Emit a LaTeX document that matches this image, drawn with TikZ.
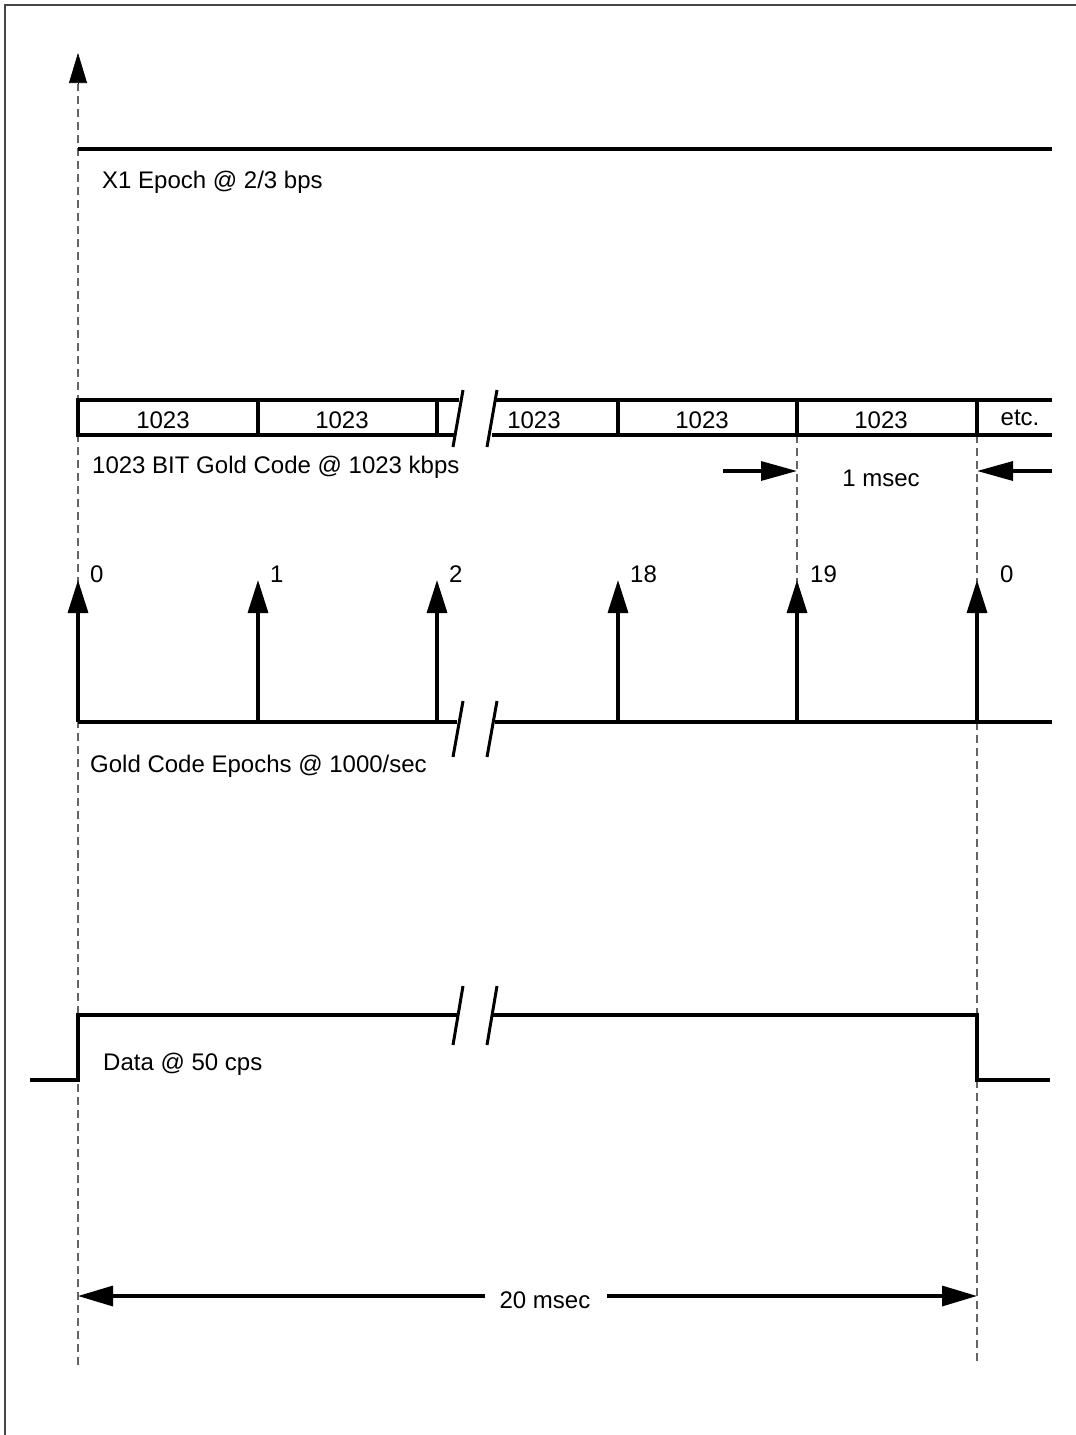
\documentclass[tikz,border=0pt]{standalone}
\usepackage{fontspec}
\setmainfont{Liberation Sans}
\usetikzlibrary{arrows.meta}
\begin{document}
\begin{tikzpicture}[x=1pt,y=-1pt,
  sig/.style={line width=3.3pt, line cap=butt},
  guide/.style={line width=1.1pt, draw={rgb,255:red,100;green,100;blue,100}, dash pattern=on 8pt off 5pt},
  lbl/.style={inner sep=0pt, anchor=base west, font=\fontsize{24}{28}\selectfont},
  clbl/.style={inner sep=0pt, anchor=base, font=\fontsize{24}{28}\selectfont},
  eptip/.style={-{Triangle[length=33pt,width=20pt]}},
  dimtip/.style={-{Triangle[length=36pt,width=19pt]}}
]
\useasboundingbox (0,0) rectangle (1076,1435);
\fill[white] (0,0) rectangle (1076,1435);
% frame (left and top edges)
\draw[line width=1.6pt, draw={rgb,255:red,70;green,70;blue,70}] (5,1440) -- (5,5) -- (1080,5);

% coordinates
\coordinate (gl) at (78,1365);
\coordinate (gt) at (78,84);
\coordinate (atip) at (78,53);

% guide lines
\draw[guide] (gl) -- (gt);
\draw[guide] (797,435) -- (797,582);
\draw[guide] (977,435) -- (977,582);
\draw[guide] (977,722) -- (977,1015);
\draw[guide] (977,1080) -- (977,1365);
% top arrow head
\draw[line width=0.6pt, -{Triangle[length=30pt,width=18pt]}] (gt) -- (atip);

% X1 epoch
\coordinate (x1a) at (78,149);
\coordinate (x1b) at (1052,149);
\draw[sig] (x1a) -- (x1b);
\node[lbl] (x1t) at (102,188) {X1 Epoch @ 2/3 bps};

% Gold code strip
\coordinate (s0t) at (78,400); \coordinate (s0b) at (78,435);
\draw[sig] (459,400) -- (s0t) -- (s0b) -- (454,435);
\draw[sig] (495,400) -- (1052,400);
\draw[sig] (492,435) -- (1052,435);
\foreach \xx in {258,437,618,797,977} \draw[sig] (\xx,400) -- (\xx,435);
\draw[line width=3pt] (463,390) -- (453,447);
\draw[line width=3pt] (497,390) -- (487,447);
\node[clbl] (c1) at (163,428) {1023};
\node[clbl] (c2) at (342,428) {1023};
\node[clbl] (c3) at (534,428) {1023};
\node[clbl] (c4) at (702,428) {1023};
\node[clbl] (c5) at (881,428) {1023};
\node[clbl] (c6) at (1020,425) {etc.};
\node[lbl] (gct) at (92,473) {1023 BIT Gold Code @ 1023 kbps};

% 1 msec
\coordinate (m1a) at (723,471); \coordinate (m1b) at (797,471);
\coordinate (m2a) at (1052,471); \coordinate (m2b) at (977,471);
\draw[sig, dimtip] (m1a) -- (m1b);
\draw[sig, dimtip] (m2a) -- (m2b);
\node[clbl] (ms1) at (881,486) {1 msec};

% Gold code epochs
\draw[sig] (78,722) -- (457,722);
\draw[sig] (495,722) -- (1052,722);
\draw[line width=3pt] (463,701) -- (453,757);
\draw[line width=3pt] (497,701) -- (487,757);
\foreach \xx/\lab/\lx in {78/0/90, 258/1/270, 437/2/449, 618/18/630, 797/19/810, 977/0/1000}{
  \draw[sig, eptip] (\xx,722) -- (\xx,580);
  \node[lbl] at (\lx,582) {\lab};
}
\node[lbl] (gce) at (90,772) {Gold Code Epochs @ 1000/sec};

% Data
\draw[sig] (30,1080) -- (78,1080) -- (78,1015) -- (458,1015);
\draw[sig] (493,1015) -- (977,1015) -- (977,1080) -- (1050,1080);
\draw[line width=3pt] (463,986) -- (453,1045);
\draw[line width=3pt] (497,986) -- (487,1045);
\node[lbl] (dt) at (103,1070) {Data @ 50 cps};

% 20 msec
\node[clbl] (t20) at (545,1308) {20 msec};
\coordinate (d1) at (485,1296); \coordinate (d1t) at (78,1296);
\coordinate (d2) at (607,1296); \coordinate (d2t) at (977,1296);
\draw[sig, -{Triangle[length=35pt,width=20pt]}] (d1) -- (d1t);
\draw[sig, -{Triangle[length=35pt,width=20pt]}] (d2) -- (d2t);
\end{tikzpicture}
\end{document}
